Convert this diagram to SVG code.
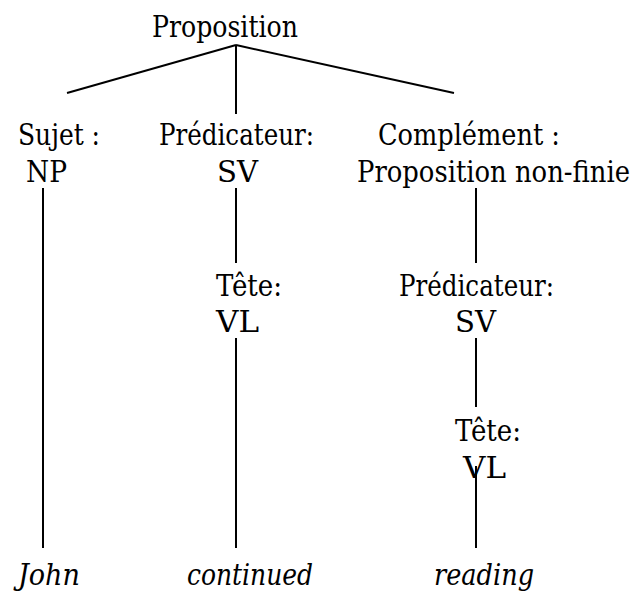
<svg xmlns="http://www.w3.org/2000/svg" width="637" height="599" viewBox="0 0 637 599">
<style>
text{font-family:"DejaVu Serif","Liberation Serif",serif;font-stretch:condensed;font-size:29px;fill:#000}
.it{font-style:italic}
.e{stroke:#000;stroke-width:2;fill:none}
</style>
<rect width="637" height="599" fill="#fff"/>
<g id="connectors">
<line class="e" x1="236" y1="45" x2="67" y2="93"/>
<line class="e" x1="236" y1="45" x2="236" y2="114"/>
<line class="e" x1="236" y1="45" x2="454" y2="93"/>
<line class="e" x1="43" y1="188" x2="43" y2="548"/>
<line class="e" x1="236" y1="188" x2="236" y2="263"/>
<line class="e" x1="236" y1="338" x2="236" y2="548"/>
<line class="e" x1="476" y1="188" x2="476" y2="263"/>
<line class="e" x1="476" y1="338" x2="476" y2="407"/>
<line class="e" x1="476" y1="466" x2="476" y2="548"/>
</g>
<g id="proposition"><text x="152" y="37" textLength="146" lengthAdjust="spacingAndGlyphs">Proposition</text></g>
<g id="sujet"><text x="18" y="145" textLength="82" lengthAdjust="spacingAndGlyphs">Sujet :</text><text x="26" y="182" textLength="41" lengthAdjust="spacingAndGlyphs">NP</text></g>
<g id="predicateur"><text x="159" y="145" textLength="155" lengthAdjust="spacingAndGlyphs">Prédicateur:</text><text x="217" y="182" textLength="41" lengthAdjust="spacingAndGlyphs">SV</text></g>
<g id="complement"><text x="378" y="145" textLength="182" lengthAdjust="spacingAndGlyphs">Complément :</text><text x="357" y="182" textLength="273" lengthAdjust="spacingAndGlyphs">Proposition non-finie</text></g>
<g id="tete1"><text x="216" y="296" textLength="66" lengthAdjust="spacingAndGlyphs">Tête:</text><text x="216" y="332" textLength="43" lengthAdjust="spacingAndGlyphs">VL</text></g>
<g id="predicateur2"><text x="399" y="296" textLength="155" lengthAdjust="spacingAndGlyphs">Prédicateur:</text><text x="455" y="332" textLength="41" lengthAdjust="spacingAndGlyphs">SV</text></g>
<g id="tete2"><text x="455" y="441" textLength="66" lengthAdjust="spacingAndGlyphs">Tête:</text><text x="463" y="478" textLength="43" lengthAdjust="spacingAndGlyphs">VL</text></g>
<g id="john"><text class="it" x="18" y="585" textLength="62" lengthAdjust="spacingAndGlyphs">John</text></g>
<g id="continued"><text class="it" x="187" y="585" textLength="126" lengthAdjust="spacingAndGlyphs">continued</text></g>
<g id="reading"><text class="it" x="434" y="585" textLength="100" lengthAdjust="spacingAndGlyphs">reading</text></g>
</svg>
